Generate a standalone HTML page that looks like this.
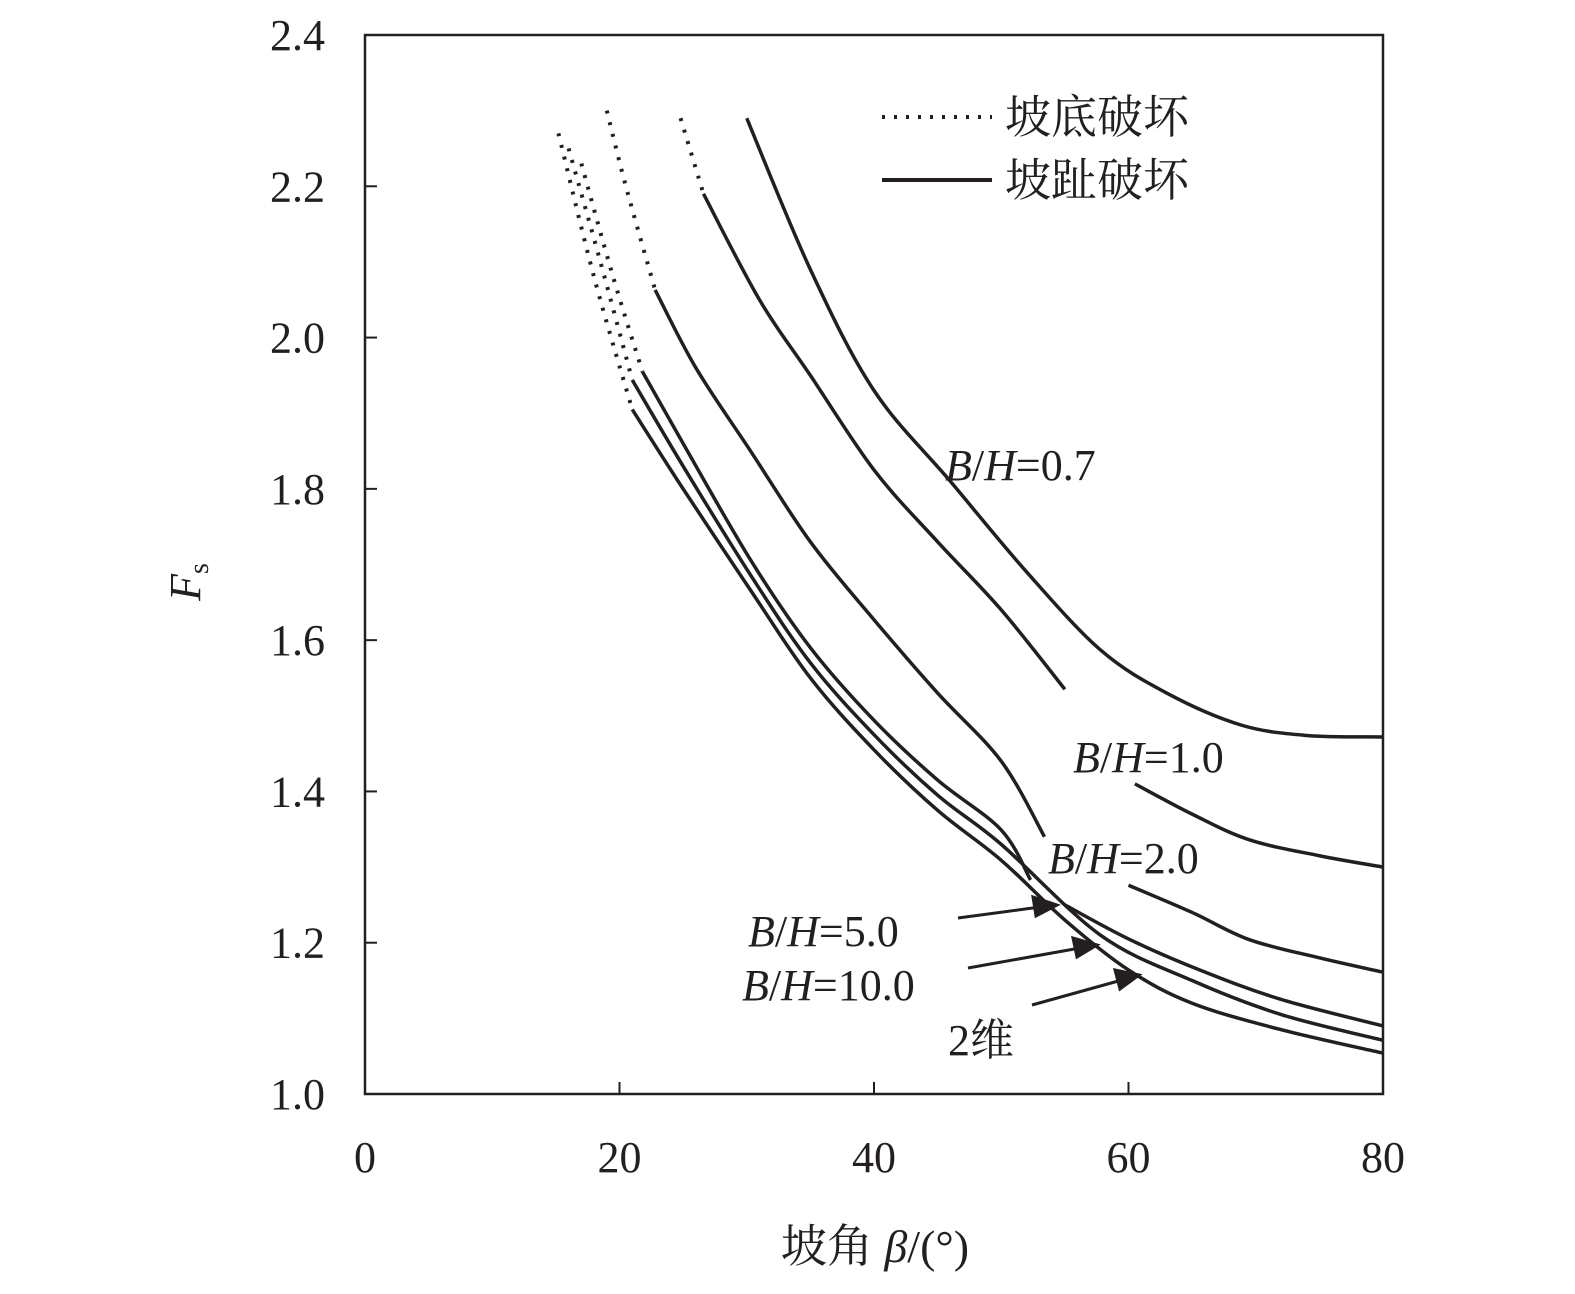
<!DOCTYPE html>
<html><head><meta charset="utf-8"><style>
body{margin:0;background:#fff}
svg text{font-family:"Liberation Serif","Noto Serif CJK SC",serif;fill:#231f20}
</style></head><body>
<svg id="chart" width="1575" height="1289" viewBox="0 0 1575 1289" xmlns="http://www.w3.org/2000/svg">
<rect x="365" y="35" width="1018" height="1059" fill="none" stroke="#231f20" stroke-width="2.5"/>
<g id="ticks"></g>
<g id="series"></g>
<text x="200" y="582" font-size="44" font-style="italic" transform="rotate(-90 200 582)" text-anchor="middle">F<tspan font-size="28" font-style="normal" dy="8">s</tspan></text>
<text x="875" y="1262" font-size="46" text-anchor="middle">坡角 <tspan font-style="italic">β</tspan>/(°)</text>
<g>
<line x1="882" y1="117" x2="992" y2="117" stroke="#231f20" stroke-width="4" stroke-dasharray="3,9"/>
<text x="1005" y="133" font-size="46">坡底破坏</text>
<line x1="882" y1="180" x2="992" y2="180" stroke="#231f20" stroke-width="4"/>
<text x="1005" y="196" font-size="46">坡趾破坏</text>
</g>
<g font-size="44">
<text x="945" y="480"><tspan font-style="italic">B</tspan>/<tspan font-style="italic">H</tspan>=0.7</text>
<text x="1073" y="772"><tspan font-style="italic">B</tspan>/<tspan font-style="italic">H</tspan>=1.0</text>
<text x="1048" y="873"><tspan font-style="italic">B</tspan>/<tspan font-style="italic">H</tspan>=2.0</text>
<text x="748" y="946"><tspan font-style="italic">B</tspan>/<tspan font-style="italic">H</tspan>=5.0</text>
<text x="742" y="1000"><tspan font-style="italic">B</tspan>/<tspan font-style="italic">H</tspan>=10.0</text>
<text x="948" y="1055">2维</text>
</g>
<g stroke="#231f20" stroke-width="3" fill="#231f20">
<line x1="958" y1="918" x2="1040" y2="907"/><polygon points="1057,905 1033,897 1036,916"/>
<line x1="968" y1="968" x2="1080" y2="948"/><polygon points="1097,945 1073,938 1077,957"/>
<line x1="1032" y1="1005" x2="1122" y2="980"/><polygon points="1139,975 1115,970 1120,989"/>
</g>
</svg>
<script>
const xTicks=[0,20,40,60,80];
const yTicks=[1.0,1.2,1.4,1.6,1.8,2.0,2.2,2.4];
const s07Solid=[[30,2.29],[35,2.09],[40,1.93],[46,1.81],[52,1.69],[57.8,1.587],[63,1.53],[68.8,1.488],[74,1.474],[80,1.472]];
const s10Dot=[[24.8,2.29],[26.6,2.19]];
const s10SolidA=[[26.6,2.19],[31,2.05],[35,1.95],[40,1.825],[45,1.73],[50,1.64],[55,1.535]];
const s10SolidB=[[60.5,1.41],[65,1.37],[69.5,1.336],[75,1.315],[80,1.30]];
const s20Dot=[[19,2.30],[20.5,2.2],[22.8,2.063]];
const s20SolidA=[[22.8,2.063],[26,1.96],[30.3,1.85],[35,1.73],[40,1.627],[45,1.53],[50,1.44],[53.4,1.34]];
const s20SolidB=[[60,1.276],[65,1.24],[69.5,1.204],[75,1.18],[80,1.161]];
const s50Dot=[[17,2.23],[19.5,2.08],[21.8,1.955]];
const s50SolidA=[[21.8,1.955],[25,1.86],[30.3,1.706],[35,1.59],[40,1.494],[45,1.415],[50,1.349],[52.3,1.283]];
const s50SolidB=[[55,1.25],[60,1.205],[65.6,1.164],[72,1.125],[80,1.09]];
const s100Dot=[[16,2.25],[18.5,2.1],[21,1.944]];
const s100Solid=[[21,1.944],[25,1.83],[30.3,1.686],[35,1.57],[40,1.475],[45,1.395],[50,1.33],[57.8,1.21],[65,1.15],[72,1.105],[80,1.071]];
const s2dDot=[[15.2,2.27],[18,2.08],[21,1.905]];
const s2dSolid=[[21,1.905],[25,1.8],[30.3,1.666],[35,1.55],[40,1.455],[45,1.375],[50,1.309],[55,1.23],[60,1.164],[65,1.12],[72,1.085],[80,1.054]];
const X=v=>365+v/80*1018;
const Y=v=>1094-(v-1.0)/1.4*1059;
const NS='http://www.w3.org/2000/svg';
const tg=document.getElementById('ticks');
xTicks.forEach(t=>{
 const l=document.createElementNS(NS,'line');
 
 
 l.setAttribute('x1',X(t));l.setAttribute('x2',X(t));l.setAttribute('y1',1094);l.setAttribute('y2',1082);
 l.setAttribute('stroke','#231f20');l.setAttribute('stroke-width','2');tg.appendChild(l);
 const tx=document.createElementNS(NS,'text');
 
 
 tx.setAttribute('x',X(t));tx.setAttribute('y',1172);tx.setAttribute('font-size','44');tx.setAttribute('text-anchor','middle');
 tx.textContent=t;tg.appendChild(tx);
});
yTicks.forEach(t=>{
 const l=document.createElementNS(NS,'line');
 
 
 l.setAttribute('x1',365);l.setAttribute('x2',377);l.setAttribute('y1',Y(t));l.setAttribute('y2',Y(t));
 l.setAttribute('stroke','#231f20');l.setAttribute('stroke-width','2');tg.appendChild(l);
 const tx=document.createElementNS(NS,'text');
 
 
 tx.setAttribute('x',325);tx.setAttribute('y',Y(t)+15);tx.setAttribute('font-size','44');tx.setAttribute('text-anchor','end');
 tx.textContent=t.toFixed(1);tg.appendChild(tx);
});
function pathD(pts){
 const p=pts.map(q=>[X(q[0]),Y(q[1])]);
 let d='M'+p[0][0]+','+p[0][1];
 for(let i=0;i<p.length-1;i++){
  const p0=p[i-1]||p[i],p1=p[i],p2=p[i+1],p3=p[i+2]||p2;
  d+=' C'+(p1[0]+(p2[0]-p0[0])/6)+','+(p1[1]+(p2[1]-p0[1])/6)+' '+(p2[0]-(p3[0]-p1[0])/6)+','+(p2[1]-(p3[1]-p1[1])/6)+' '+p2[0]+','+p2[1];
 }
 return d;
}
const sg=document.getElementById('series');
function draw(pts,name,dotted){
 const e=document.createElementNS(NS,'path');
 
 
 e.setAttribute('d',pathD(pts));e.setAttribute('fill','none');e.setAttribute('stroke','#231f20');
 e.setAttribute('stroke-width',dotted?'4':'3.5');
 if(dotted)e.setAttribute('stroke-dasharray','3,9');
 sg.appendChild(e);
}
draw(s07Solid,'curve-bh-0.7-solid',false);
draw(s10Dot,'curve-bh-1.0-dotted',true);
draw(s10SolidA,'curve-bh-1.0-solid',false);
draw(s10SolidB,'curve-bh-1.0-solid-end',false);
draw(s20Dot,'curve-bh-2.0-dotted',true);
draw(s20SolidA,'curve-bh-2.0-solid',false);
draw(s20SolidB,'curve-bh-2.0-solid-end',false);
draw(s50Dot,'curve-bh-5.0-dotted',true);
draw(s50SolidA,'curve-bh-5.0-solid',false);
draw(s50SolidB,'curve-bh-5.0-solid-end',false);
draw(s100Dot,'curve-bh-10.0-dotted',true);
draw(s100Solid,'curve-bh-10.0-solid',false);
draw(s2dDot,'curve-2d-dotted',true);
draw(s2dSolid,'curve-2d-solid',false);
</script>
</body></html>
